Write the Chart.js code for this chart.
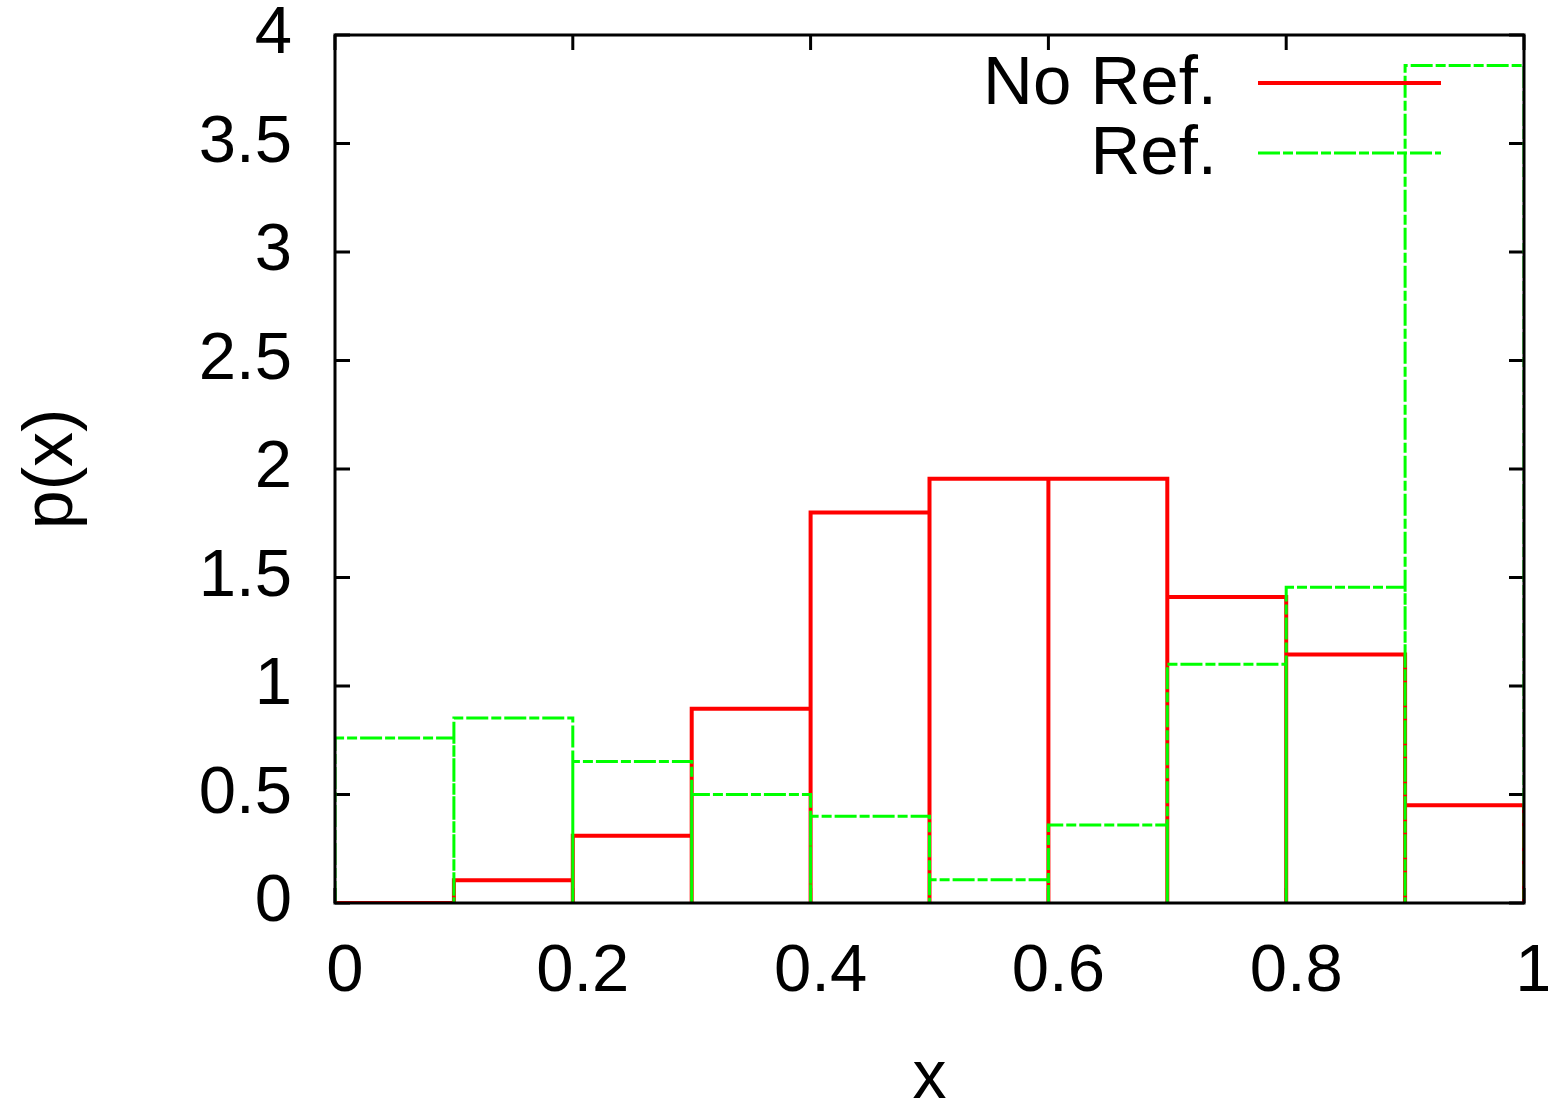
<!DOCTYPE html>
<html>
<head>
<meta charset="utf-8">
<title>p(x)</title>
<script src="https://cdn.jsdelivr.net/npm/chart.js@4.4.1/dist/chart.umd.min.js"></script>
<style>
    body { margin: 0; background: #ffffff; }
    #histChart { display: block; }
</style>
</head>
<body>
<canvas id="histChart" width="1548" height="1105"></canvas>
<script>
// histogram bins (left edges), width 0.1
var binStarts = [0, 0.1, 0.2, 0.3, 0.4, 0.5, 0.6, 0.7, 0.8, 0.9];
var binWidth = 0.1;
var noRefValues = [0, 0.105, 0.31, 0.895, 1.80, 1.955, 1.955, 1.41, 1.145, 0.45];
var refValues = [0.76, 0.852, 0.652, 0.50, 0.40, 0.107, 0.36, 1.10, 1.455, 3.86];
var seriesLabels = ['No Ref.', 'Ref.'];
var xTicks = [0, 0.2, 0.4, 0.6, 0.8, 1];
var yTicks = [0, 0.5, 1, 1.5, 2, 2.5, 3, 3.5, 4];

var mainFont = "'Liberation Sans', Arial, sans-serif";

// gnuplot "with boxes": trace each bin as an open outline
function boxOutline(starts, values) {
    var pts = [];
    starts.forEach((x0, i) => {
        var x1 = x0 + binWidth;
        pts.push({ x: x0, y: 0 });
        pts.push({ x: x0, y: values[i] });
        pts.push({ x: x1, y: values[i] });
        pts.push({ x: x1, y: 0 });
    });
    return pts;
}

// inward tick marks go under the boxes, the border goes on top
const frameTicks = {
    id: 'frameTicks',
    beforeDatasetsDraw(chart) {
        const ctx = chart.ctx;
        const area = chart.chartArea;
        const xs = chart.scales.x;
        const ys = chart.scales.y;
        const len = 15;
        ctx.save();
        ctx.strokeStyle = '#000000';
        ctx.lineWidth = 3;
        ctx.beginPath();
        yTicks.forEach((v) => {
            const py = ys.getPixelForValue(v);
            ctx.moveTo(area.left, py);
            ctx.lineTo(area.left + len, py);
            ctx.moveTo(area.right, py);
            ctx.lineTo(area.right - len, py);
        });
        xTicks.forEach((v) => {
            const px = xs.getPixelForValue(v);
            ctx.moveTo(px, area.bottom);
            ctx.lineTo(px, area.bottom - len);
            ctx.moveTo(px, area.top);
            ctx.lineTo(px, area.top + len);
        });
        ctx.stroke();
        ctx.restore();
    },
    afterDatasetsDraw(chart) {
        const ctx = chart.ctx;
        const area = chart.chartArea;
        ctx.save();
        ctx.strokeStyle = '#000000';
        ctx.lineWidth = 3;
        ctx.setLineDash([]);
        ctx.strokeRect(area.left, area.top, area.right - area.left, area.bottom - area.top);
        ctx.restore();
    }
};

// gnuplot style key: right aligned text, line sample to its right
const gnuKey = {
    id: 'gnuKey',
    afterDraw(chart) {
        const ctx = chart.ctx;
        const area = chart.chartArea;
        ctx.save();
        ctx.font = '69px ' + mainFont;
        ctx.textAlign = 'right';
        ctx.textBaseline = 'middle';
        chart.data.datasets.forEach((ds, i) => {
            const y = area.top + 48 + i * 70;
            ctx.fillStyle = '#000000';
            ctx.fillText(ds.label, area.right - 307, y + 2);
            ctx.strokeStyle = ds.borderColor;
            ctx.lineWidth = ds.borderWidth;
            ctx.setLineDash(ds.borderDash || []);
            ctx.beginPath();
            ctx.moveTo(area.right - 266, y);
            ctx.lineTo(area.right - 83, y);
            ctx.stroke();
        });
        ctx.restore();
    }
};

var ctx = document.getElementById('histChart').getContext('2d');
var histChart = new Chart(ctx, {
    type: 'line',
    data: {
        datasets: [{
            label: seriesLabels[0],
            data: boxOutline(binStarts, noRefValues),
            borderColor: '#ff0000',
            borderWidth: 4,
            order: 1
        }, {
            label: seriesLabels[1],
            data: boxOutline(binStarts, refValues),
            borderColor: '#00ff00',
            borderWidth: 3,
            borderDash: [22, 3, 10, 3],
            order: 0
        }]
    },
    options: {
        responsive: false,
        animation: false,
        devicePixelRatio: 1,
        layout: {
            padding: { left: 0, top: 35, right: 24, bottom: 0 }
        },
        elements: {
            point: { radius: 0, hoverRadius: 0 },
            line: { tension: 0, fill: false, borderCapStyle: 'butt', borderJoinStyle: 'miter' }
        },
        plugins: {
            legend: { display: false },
            tooltip: { enabled: false }
        },
        scales: {
            x: {
                type: 'linear',
                min: 0,
                max: 1,
                grid: { display: false },
                border: { display: false },
                afterBuildTicks: (scale) => {
                    scale.ticks = xTicks.map((v) => ({ value: v }));
                },
                ticks: {
                    color: '#000000',
                    padding: 28,
                    labelOffset: 10,
                    maxRotation: 0,
                    callback: (v) => String(v),
                    font: { family: mainFont, size: 67, lineHeight: 1 }
                },
                title: {
                    display: true,
                    text: 'x',
                    color: '#000000',
                    padding: { top: 0, bottom: -8 },
                    font: { family: mainFont, size: 68, lineHeight: 1 }
                },
                afterFit: (scale) => {
                    scale.height = 202;
                    scale.paddingLeft = 0;
                    scale.paddingRight = 0;
                }
            },
            y: {
                type: 'linear',
                min: 0,
                max: 4,
                grid: { display: false },
                border: { display: false },
                afterBuildTicks: (scale) => {
                    scale.ticks = yTicks.map((v) => ({ value: v }));
                },
                ticks: {
                    color: '#000000',
                    padding: 35,
                    callback: (v) => String(v),
                    font: { family: mainFont, size: 67, lineHeight: 1 }
                },
                title: {
                    display: true,
                    text: 'p(x)',
                    color: '#000000',
                    padding: { top: 18, bottom: 0 },
                    font: { family: mainFont, size: 70, lineHeight: 1 }
                },
                afterFit: (scale) => {
                    scale.width = 335;
                    scale.paddingTop = 0;
                    scale.paddingBottom = 0;
                }
            }
        }
    },
    plugins: [frameTicks, gnuKey]
});
</script>
</body>
</html>
